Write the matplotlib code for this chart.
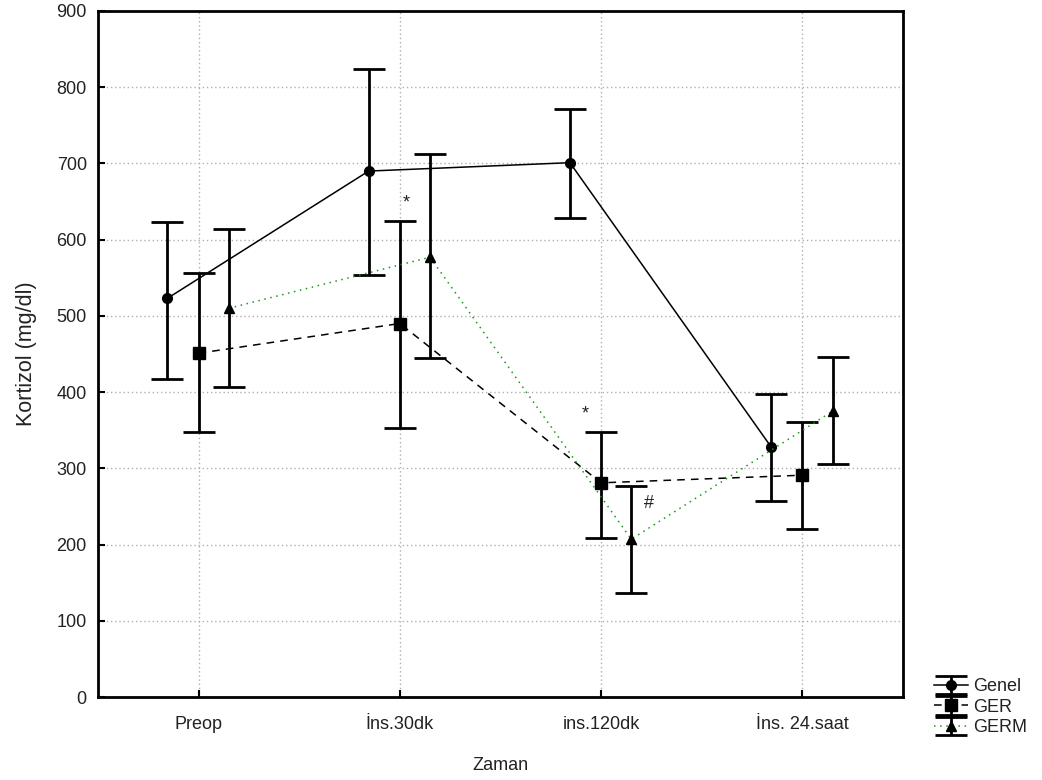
import matplotlib
matplotlib.use("Agg")
import matplotlib.pyplot as plt
import numpy as np

categories = ["Preop", "İns.30dk", "ins.120dk", "İns. 24.saat"]
series_names = ["Genel", "GER", "GERM"]

genel_mean = [523, 690, 701, 328]
genel_upper = [623, 824, 772, 397]
genel_lower = [417, 553, 629, 257]

ger_mean = [451, 490, 281, 291]
ger_upper = [556, 624, 348, 361]
ger_lower = [348, 353, 209, 220]

germ_mean = [510, 577, 207, 375]
germ_upper = [614, 713, 277, 446]
germ_lower = [407, 445, 136, 306]

annotations = [("*", 1.03, 648), ("*", 1.92, 371), ("#", 2.24, 254)]

plt.rcParams['font.family'] = ['Liberation Sans', 'DejaVu Sans']

fig = plt.figure(figsize=(10.42, 7.8), dpi=100)
ax = fig.add_axes([0.094, 0.1064, 0.7726, 0.8795])

x = np.arange(len(categories))
offsets = [-0.155, 0.0, 0.15]
means = [genel_mean, ger_mean, germ_mean]
uppers = [genel_upper, ger_upper, germ_upper]
lowers = [genel_lower, ger_lower, germ_lower]
linestyles = ['-', (0, (5, 4)), (0, (1, 3))]
colors = ['black', 'black', '#1a9a1a']
markers = ['o', 's', '^']
msizes = [7, 8, 7]
txtcol = '#222222'
fs = 13

handles = []
for i in range(3):
    m = np.array(means[i])
    up = np.array(uppers[i]) - m
    lo = m - np.array(lowers[i])
    xs = x + offsets[i]
    h = ax.errorbar(xs, m, yerr=[lo, up], marker=markers[i], markersize=msizes[i],
                    markerfacecolor='black', markeredgecolor='black',
                    color=colors[i], linestyle=linestyles[i], lw=1.1,
                    ecolor='black', elinewidth=2, capsize=11.5, capthick=2,
                    zorder=4, label=series_names[i])
    h.lines[0].set_zorder(5)
    handles.append(h)

for txt, tx, ty in annotations:
    ax.text(tx, ty, txt, ha='center', va='center', fontsize=fs, color=txtcol)

ax.set_xlim(-0.5, 3.5)
ax.set_ylim(0, 900)
ax.set_yticks(np.arange(0, 901, 100))
ax.set_xticks(x)
ax.set_xticklabels(categories)
ax.grid(True, linestyle=(0, (1, 2)), color='#b0b0b0', lw=1)
ax.set_axisbelow(True)
ax.tick_params(direction='in', length=5, width=1.5, labelsize=fs,
               labelcolor=txtcol)
ax.tick_params(axis='x', pad=14)
ax.tick_params(axis='y', pad=8)
for s in ax.spines.values():
    s.set_linewidth(2)
ax.set_xlabel("Zaman", fontsize=fs, color=txtcol, labelpad=17)
ax.set_ylabel("Kortizol (mg/dl)", fontsize=15.5, color=txtcol, labelpad=14)

leg = fig.legend(handles, series_names, loc='lower left',
                 bbox_to_anchor=(0.886, 0.042), frameon=False, fontsize=fs,
                 handlelength=1.9, handletextpad=0.25, labelspacing=0.2,
                 borderpad=0.1)
for t in leg.get_texts():
    t.set_color(txtcol)

fig.savefig("out.png", dpi=100)
